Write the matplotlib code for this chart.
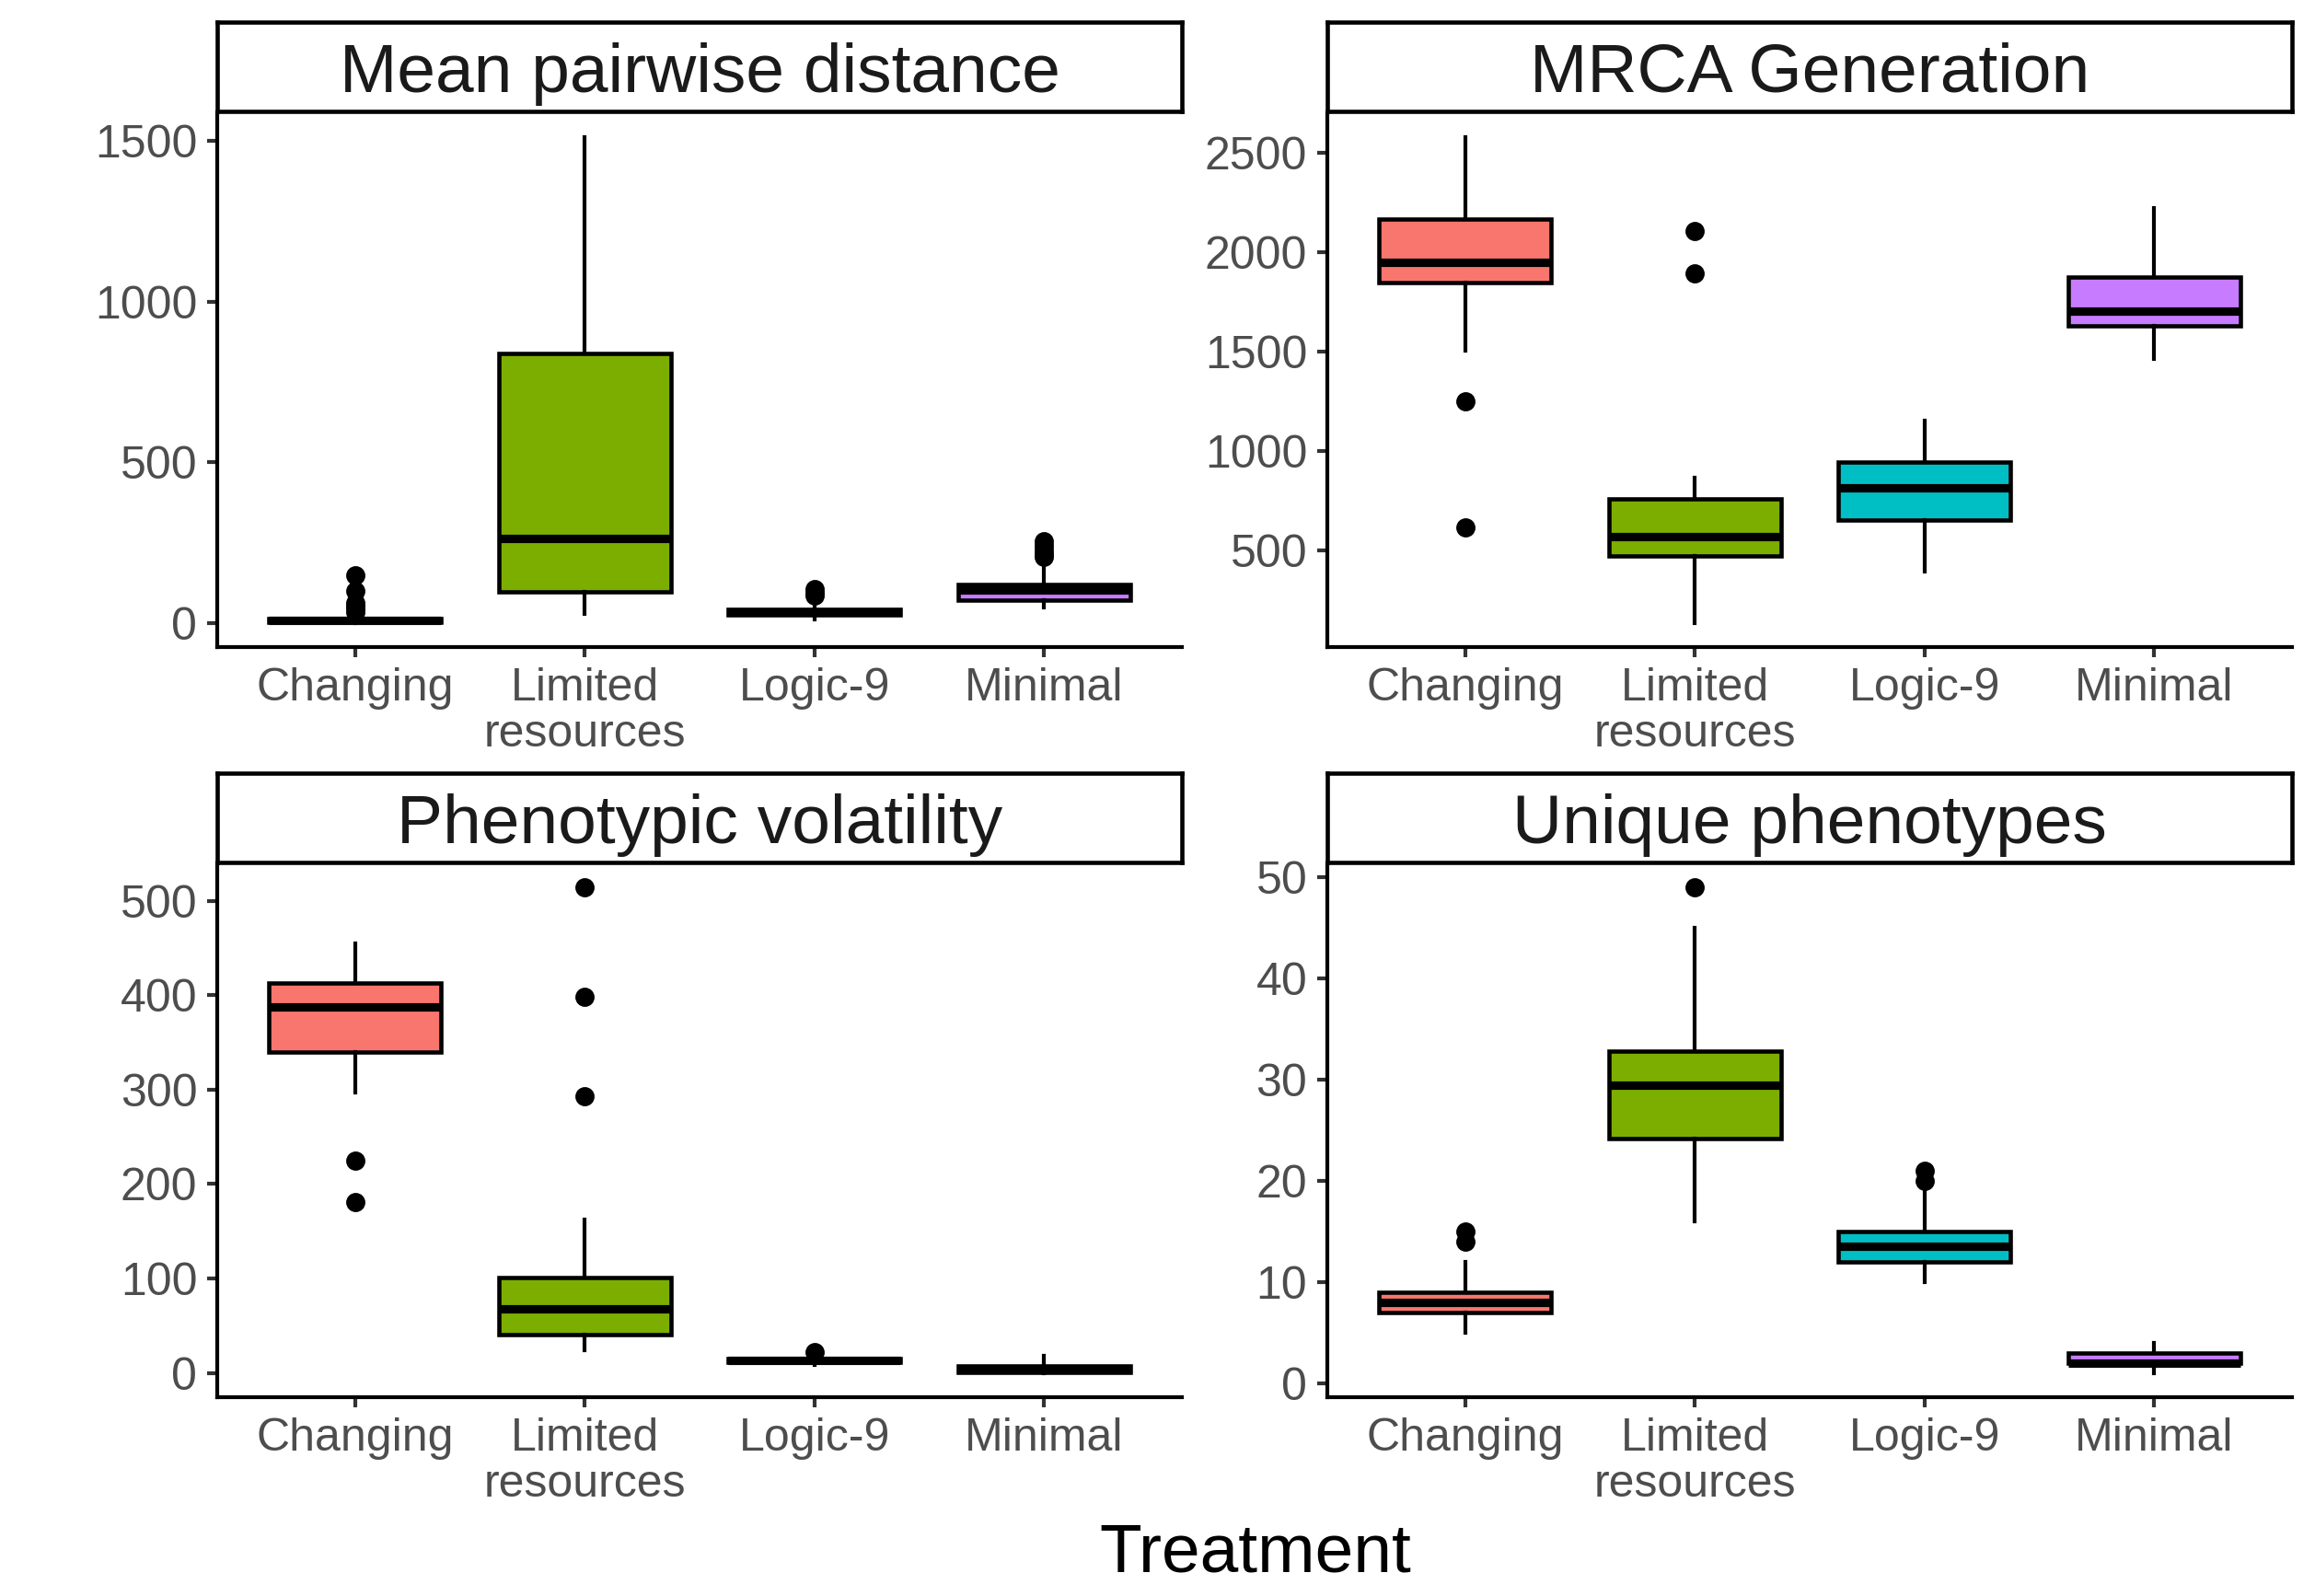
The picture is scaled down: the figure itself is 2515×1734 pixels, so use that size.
import matplotlib
matplotlib.use("Agg")
import matplotlib.pyplot as plt

plt.rcParams['font.family'] = ['Liberation Sans', 'DejaVu Sans']

treatments = ['Changing', 'Limited\nresources', 'Logic-9', 'Minimal']
colors = ['#F8766D', '#7CAE00', '#00BFC4', '#C77CFF']

# Mean pairwise distance
mpd_whislo = [1, 30, 12, 48]
mpd_q1 = [3, 96, 25, 72]
mpd_med = [8, 262, 35, 104]
mpd_q3 = [14, 840, 44, 121]
mpd_whishi = [28, 1511, 55, 187]
mpd_fliers = [[33, 45, 55, 62, 101, 150], [], [85, 95, 105], [205, 215, 225, 240, 255]]
mpd_ticks = [0, 500, 1000, 1500]

# MRCA Generation
mrca_whislo = [1505, 138, 395, 1463]
mrca_q1 = [1847, 474, 653, 1631]
mrca_med = [1950, 571, 815, 1706]
mrca_q3 = [2165, 762, 946, 1875]
mrca_whishi = [2577, 867, 1154, 2221]
mrca_fliers = [[1250, 618], [2108, 1892], [], []]
mrca_ticks = [500, 1000, 1500, 2000, 2500]

# Phenotypic volatility
vol_whislo = [297, 24, 8, 0]
vol_q1 = [340, 41, 11, 1]
vol_med = [388, 68, 13, 4]
vol_q3 = [413, 101, 15, 7]
vol_whishi = [455, 162, 17, 18]
vol_fliers = [[225, 181], [514, 398, 293], [22.5], []]
vol_ticks = [0, 100, 200, 300, 400, 500]

# Unique phenotypes
uni_whislo = [5, 16, 10, 1]
uni_q1 = [7, 24.2, 12, 2]
uni_med = [8, 29.5, 13.5, 2]
uni_q3 = [9, 32.8, 15, 3]
uni_whishi = [12, 45, 19, 4]
uni_fliers = [[14, 15], [49], [20, 21], []]
uni_ticks = [0, 10, 20, 30, 40, 50]

panels = [
    ("Mean pairwise distance", mpd_whislo, mpd_q1, mpd_med, mpd_q3, mpd_whishi, mpd_fliers, mpd_ticks),
    ("MRCA Generation", mrca_whislo, mrca_q1, mrca_med, mrca_q3, mrca_whishi, mrca_fliers, mrca_ticks),
    ("Phenotypic volatility", vol_whislo, vol_q1, vol_med, vol_q3, vol_whishi, vol_fliers, vol_ticks),
    ("Unique phenotypes", uni_whislo, uni_q1, uni_med, uni_q3, uni_whishi, uni_fliers, uni_ticks),
]

W, H = 2515, 1734
fig = plt.figure(figsize=(W / 300, H / 300), dpi=300)

xs = [236 / W, 1442 / W]
aw = 1048 / W
ax_bottoms = [1 - 703 / H, 1 - 1518 / H]
ah = 580 / H
strip_bottoms = [1 - 121 / H, 1 - 937 / H]
sh = 97 / H

for i, (title, wl, q1, med, q3, wh, fl, ticks) in enumerate(panels):
    r, c = divmod(i, 2)
    ax = fig.add_axes([xs[c], ax_bottoms[r], aw, ah])
    stats = []
    for j in range(len(treatments)):
        stats.append(dict(whislo=wl[j], q1=q1[j], med=med[j], q3=q3[j],
                          whishi=wh[j], fliers=fl[j], label=treatments[j]))
    bp = ax.bxp(stats, positions=range(1, len(treatments) + 1), widths=0.75,
                patch_artist=True, showcaps=False,
                boxprops=dict(edgecolor='black', linewidth=1.1),
                whiskerprops=dict(color='black', linewidth=1.0),
                medianprops=dict(color='black', linewidth=2.2, solid_capstyle='butt'),
                flierprops=dict(marker='o', markerfacecolor='black',
                                markeredgecolor='black', markersize=4.0))
    for patch, col in zip(bp['boxes'], colors):
        patch.set_facecolor(col)
    ax.set_xlim(0.4, 4.6)
    ax.margins(y=0.05)
    ax.set_yticks(ticks)
    ax.set_xticks(range(1, len(treatments) + 1))
    ax.set_xticklabels(treatments, linespacing=1.12)
    for s in ['top', 'right']:
        ax.spines[s].set_visible(False)
    for s in ['left', 'bottom']:
        ax.spines[s].set_linewidth(1.0)
        ax.spines[s].set_color('black')
    ax.tick_params(axis='both', length=2.7, width=1.0, color='#333333',
                   labelsize=12, labelcolor='#4D4D4D', pad=2.5)

    sax = fig.add_axes([xs[c], strip_bottoms[r], aw, sh])
    sax.set_xticks([])
    sax.set_yticks([])
    for s in sax.spines.values():
        s.set_linewidth(1.1)
        s.set_color('black')
    sax.text(0.5, 0.42, title, ha='center', va='center', fontsize=18,
             color='#1A1A1A', transform=sax.transAxes)

fig.text((236 + 2491) / 2 / W, 1 - 1688 / H, 'Treatment', ha='center', va='center',
         fontsize=18, color='black')

fig.savefig('out.png', dpi=300)
